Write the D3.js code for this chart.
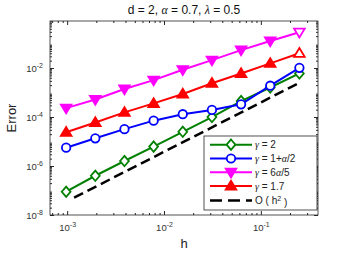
<html>
<script src='https://d3js.org/d3.v7.min.js'></script>
<style>
  body { margin: 0; background: #fff; }
  text { font-family: "Liberation Sans", Arial, sans-serif; }
  .gr { font-family: "Liberation Serif", "Times New Roman", serif; }
</style>
<body onload='init()'>
<svg width=352 height=254></svg>
<script>
// step sizes h = 2^-10 ... 2^-2
const hValues = [0.0009765625, 0.001953125, 0.00390625, 0.0078125, 0.015625, 0.03125, 0.0625, 0.125, 0.25]

// errors
const errGamma2     = [8.9e-8, 4.0e-7, 1.6e-6, 6.2e-6, 2.5e-5, 1.0e-4, 4.5e-4, 1.6e-3, 6.0e-3]
const errGammaHalf  = [5.6e-6, 1.35e-5, 3.2e-5, 7.1e-5, 1.3e-4, 1.95e-4, 3.3e-4, 1.9e-3, 1.02e-2]
const errGamma6a5   = [2.3e-4, 5.2e-4, 1.4e-3, 3.2e-3, 8.5e-3, 2.1e-2, 5.4e-2, 1.26e-1, 2.9e-1]
const errGamma17    = [2.4e-5, 6.0e-5, 1.55e-4, 3.6e-4, 8.7e-4, 2.4e-3, 6.0e-3, 1.55e-2, 4.0e-2]

// reference slope line O(h^2), end points
const refH   = [0.00118, 0.25]
const refErr = [5.1e-8, 2.5e-3]

// legend labels, split into [text, isGreek] pieces
const seriesNames = [
    [["\u03b3", 1], [" = 2", 0]],
    [["\u03b3", 1], [" = 1+", 0], ["\u03b1", 1], ["/2", 0]],
    [["\u03b3", 1], [" = 6", 0], ["\u03b1", 1], ["/5", 0]],
    [["\u03b3", 1], [" = 1.7", 0]]
]
const titleParts = [["d = 2, ", 0], ["\u03b1", 1], [" = 0.7, ", 0], ["\u03bb", 1], [" = 0.5", 0]]
const xTicks = [1e-3, 1e-2, 1e-1]
const yTicks = [1e-8, 1e-6, 1e-4, 1e-2]

function init() {
    const svg = d3.select("svg")
    const L = 50, R = 318, T = 21, B = 215

    const x = d3.scaleLog().domain([Math.pow(10, -3.177), Math.pow(10, -0.41)]).range([L, R])
    const y = d3.scaleLog().domain([1e-8, Math.pow(10, -0.08)]).range([B, T])

    const axisCol = "#262626"

    // minor ticks
    const xMinor = [], yMinor = []
    for (let e = -4; e <= 0; e++) for (let m = 2; m <= 9; m++) {
        const v = m * Math.pow(10, e)
        if (v > x.domain()[0] && v < x.domain()[1]) xMinor.push(v)
    }
    for (let e = -8; e <= 0; e++) for (let m = 2; m <= 9; m++) {
        const v = m * Math.pow(10, e)
        if (v > y.domain()[0] && v < y.domain()[1]) yMinor.push(v)
    }

    const sup = function(sel) {
        sel.selectAll(".tick text").each(function(d) {
            const t = d3.select(this)
            const ex = Math.round(Math.log10(d))
            t.text("10").attr("fill", "#333").attr("font-size", "9.5px")
            t.append("tspan").attr("dy", "-0.55em").attr("font-size", "7px").text(ex)
        })
    }

    const richText = function(t, parts) {
        parts.forEach(p => {
            const sp = t.append("tspan").text(p[0])
            if (p[1]) sp.attr("class", "gr").attr("font-style", "italic")
        })
    }

    // bottom axis
    const gx = svg.append("g").attr("transform", `translate(0,${B})`)
        .call(d3.axisBottom(x).tickValues(xTicks).tickSize(-4).tickPadding(9))
    gx.call(sup)
    gx.select(".domain").remove()
    gx.selectAll(".tick line").attr("stroke", axisCol)
    svg.append("g").attr("transform", `translate(0,${B})`)
        .call(d3.axisBottom(x).tickValues(xMinor).tickSize(-2).tickFormat(""))
        .call(g => g.select(".domain").remove())
        .selectAll("line").attr("stroke", axisCol)

    // top axis
    svg.append("g").attr("transform", `translate(0,${T})`)
        .call(d3.axisTop(x).tickValues(xTicks).tickSize(-4).tickFormat(""))
        .call(g => g.select(".domain").remove())
        .selectAll("line").attr("stroke", axisCol)
    svg.append("g").attr("transform", `translate(0,${T})`)
        .call(d3.axisTop(x).tickValues(xMinor).tickSize(-2).tickFormat(""))
        .call(g => g.select(".domain").remove())
        .selectAll("line").attr("stroke", axisCol)

    // left axis
    const gy = svg.append("g").attr("transform", `translate(${L},0)`)
        .call(d3.axisLeft(y).tickValues(yTicks).tickSize(-4).tickPadding(7))
    gy.call(sup)
    gy.select(".domain").remove()
    gy.selectAll(".tick line").attr("stroke", axisCol)
    svg.append("g").attr("transform", `translate(${L},0)`)
        .call(d3.axisLeft(y).tickValues(yMinor).tickSize(-2).tickFormat(""))
        .call(g => g.select(".domain").remove())
        .selectAll("line").attr("stroke", axisCol)

    // right axis
    svg.append("g").attr("transform", `translate(${R},0)`)
        .call(d3.axisRight(y).tickValues(yTicks).tickSize(-4).tickFormat(""))
        .call(g => g.select(".domain").remove())
        .selectAll("line").attr("stroke", axisCol)
    svg.append("g").attr("transform", `translate(${R},0)`)
        .call(d3.axisRight(y).tickValues(yMinor).tickSize(-2).tickFormat(""))
        .call(g => g.select(".domain").remove())
        .selectAll("line").attr("stroke", axisCol)

    // frame
    svg.append("rect").attr("x", L).attr("y", T).attr("width", R - L).attr("height", B - T)
        .attr("fill", "none").attr("stroke", axisCol).attr("stroke-width", 0.8)

    const diamond = "M0,-5.2L4.4,0L0,5.2L-4.4,0Z"
    const triDown = "M-5.3,-3.6L5.3,-3.6L0,5.2Z"
    const triUp = "M-5.3,3.6L5.3,3.6L0,-5.2Z"
    const circle = d3.symbol(d3.symbolCircle, 56)()

    const series = [
        { name: seriesNames[0], vals: errGamma2,    color: "#008000", path: diamond, filled: false },
        { name: seriesNames[1], vals: errGammaHalf, color: "#0000ff", path: circle,  filled: false },
        { name: seriesNames[2], vals: errGamma6a5,  color: "#ff00ff", path: triDown, filled: true },
        { name: seriesNames[3], vals: errGamma17,   color: "#ff0000", path: triUp,   filled: true }
    ]

    const line = d3.line().x(d => x(d[0])).y(d => y(d[1]))

    // reference dashed line
    svg.append("path").datum(d3.zip(refH, refErr)).attr("d", line)
        .attr("fill", "none").attr("stroke", "#000").attr("stroke-width", 2.5)
        .attr("stroke-dasharray", "10,5")

    series.forEach(s => {
        const pts = d3.zip(hValues, s.vals)
        svg.append("path").datum(pts).attr("d", line)
            .attr("fill", "none").attr("stroke", s.color).attr("stroke-width", 2)
        svg.append("g").selectAll("path").data(pts).enter().append("path")
            .attr("d", s.path)
            .attr("transform", d => `translate(${x(d[0])},${y(d[1])})`)
            .attr("fill", (d, i) => (s.filled && i < pts.length - 1) ? s.color : "#fff")
            .attr("stroke", s.color).attr("stroke-width", 1.8)
    })

    // legend
    const lg = svg.append("g")
    lg.append("rect").attr("x", 204).attr("y", 136).attr("width", 113).attr("height", 74)
        .attr("fill", "#fff").attr("stroke", axisCol).attr("stroke-width", 0.8)
    const rowY = [144.7, 158.5, 172.3, 186, 200.5]
    series.forEach((s, i) => {
        lg.append("line").attr("x1", 210).attr("x2", 252).attr("y1", rowY[i]).attr("y2", rowY[i])
            .attr("stroke", s.color).attr("stroke-width", 2)
        lg.append("path").attr("d", s.path).attr("transform", `translate(231,${rowY[i]})`)
            .attr("fill", s.filled ? s.color : "#fff").attr("stroke", s.color).attr("stroke-width", 1.8)
        const t = lg.append("text").attr("x", 255).attr("y", rowY[i] + 3.5).attr("font-size", "10px")
            .attr("fill", "#222")
        richText(t, s.name)
    })
    lg.append("line").attr("x1", 210).attr("x2", 252).attr("y1", rowY[4]).attr("y2", rowY[4])
        .attr("stroke", "#000").attr("stroke-width", 2.5).attr("stroke-dasharray", "12,6")
    const ot = lg.append("text").attr("x", 255).attr("y", rowY[4] + 3.5).attr("font-size", "10px").attr("fill", "#222")
    ot.append("tspan").text("O ( h")
    ot.append("tspan").attr("dy", "-0.5em").attr("font-size", "7px").text("2")
    ot.append("tspan").attr("dy", "0.5em").text(" )")

    // title and labels
    const tt = svg.append("text").attr("x", 184).attr("y", 14).attr("text-anchor", "middle")
        .attr("font-size", "12px").attr("fill", "#111")
    richText(tt, titleParts)
    svg.append("text").attr("x", 184).attr("y", 248).attr("text-anchor", "middle")
        .attr("font-size", "13px").attr("fill", "#222").text("h")
    svg.append("text").attr("transform", "translate(16,118) rotate(-90)").attr("text-anchor", "middle")
        .attr("font-size", "13px").attr("fill", "#222").text("Error")
}
</script>
</body>
</html>
